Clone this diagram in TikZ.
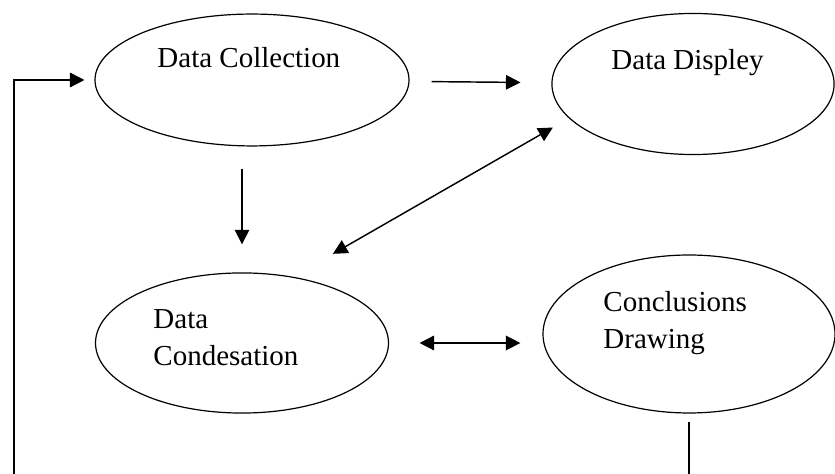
\documentclass[tikz,border=0pt]{standalone}
\usepackage{fontspec}
\setmainfont{Liberation Serif}
\usetikzlibrary{shapes,arrows.meta,positioning,calc}

\begin{document}
\begin{tikzpicture}[x=0.414pt, y=-0.414pt,
  stage/.style={draw, ellipse, line width=0.5pt, inner sep=0pt},
  txt/.style={anchor=base west, inner sep=0pt, font=\fontsize{12}{14}\selectfont},
  arr/.style={-{Triangle[length=6pt,width=6pt]}, line width=0.6pt},
  both/.style={{Triangle[length=6pt,width=6pt]}-{Triangle[length=6pt,width=6pt]}, line width=0.6pt}]
  \useasboundingbox (0,0) rectangle (835,474);
  \clip (0,0) rectangle (835,474);
  % the four stages
  \node[stage, minimum width=130pt, minimum height=54.6pt] (coll) at (252,80) {};
  \node[stage, minimum width=116.8pt, minimum height=58.4pt] (disp) at (693,84) {};
  \node[stage, minimum width=121.3pt, minimum height=58pt] (cond) at (242,343) {};
  \node[stage, minimum width=120.9pt, minimum height=65.4pt] (concl) at (689,334) {};
  % texts
  \node[txt] (coll-t) at (157,68) {Data Collection};
  \node[txt] (disp-t) at (611,70) {Data Displey};
  \node[txt] (cond-t1) at (153,329) {Data};
  \node[txt] (cond-t2) at (153,366) {Condesation};
  \node[txt] (concl-t1) at (603,312) {Conclusions};
  \node[txt] (concl-t2) at (603,349) {Drawing};
  % arrows
  \draw[arr, shorten <=9.1pt, shorten >=12.8pt] (coll) -- (disp);
  \draw[arr, shorten <=9.1pt, shorten >=11.6pt] (coll.south -| cond.north) -- (cond.north);
  \draw[both, shorten <=43.4pt, shorten >=66.9pt] ([yshift=15.3pt]cond.center) -- ([yshift=15.3pt]disp.center);
  \draw[both, shorten <=12.6pt, shorten >=9.1pt] (cond.east) -- (cond.east -| concl.west);
  % feedback loop
  \coordinate (back) at (14,520);
  \draw[arr, shorten >=4.1pt] ([yshift=-3.3pt]concl.south) |- (back) |- (coll.west);
\end{tikzpicture}
\end{document}
